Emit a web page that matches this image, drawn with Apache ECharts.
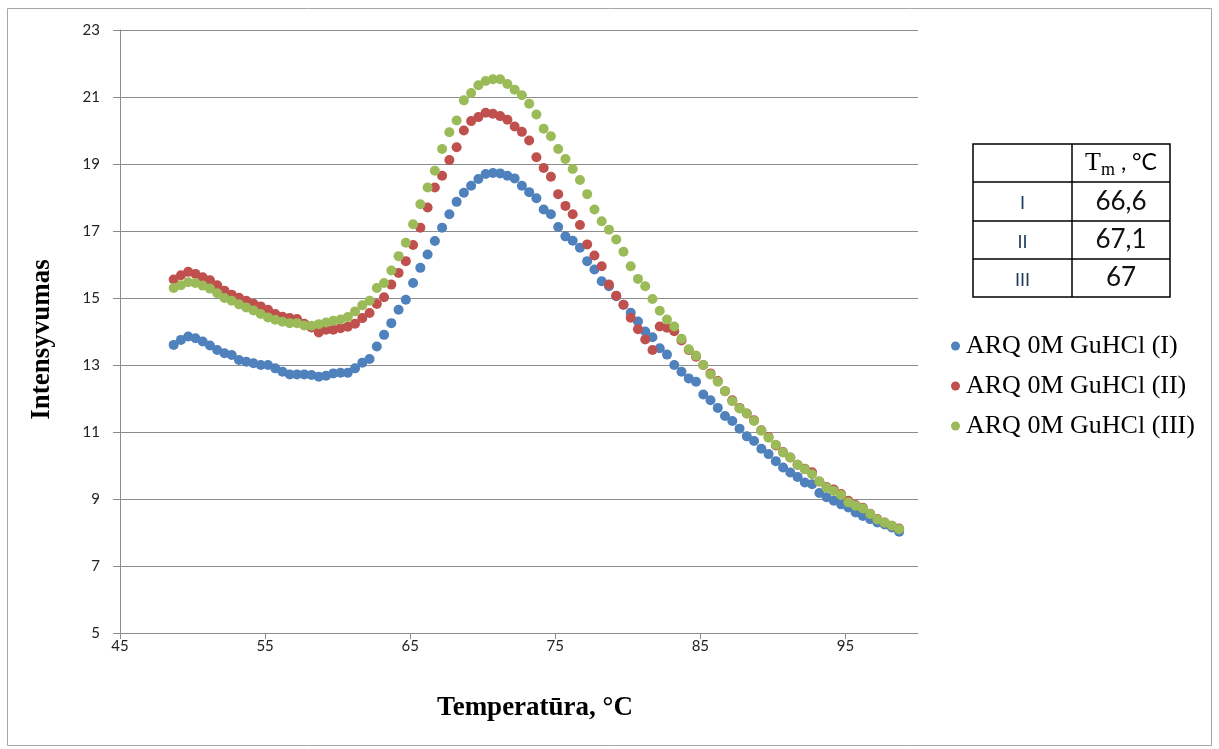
<!DOCTYPE html>
<html>
<head>
<meta charset="utf-8">
<script src="https://cdn.jsdelivr.net/npm/echarts@6/dist/echarts.min.js"></script>
<style>html,body{margin:0;padding:0;background:#fff;}#c{width:1219px;height:749px;}</style>
</head>
<body>
<div id="c"></div>
<script>
const temps = [
 48.7,49.2,49.7,50.2,50.7,51.2,51.7,52.2,52.7,53.2,
 53.7,54.2,54.7,55.2,55.7,56.2,56.7,57.2,57.7,58.2,
 58.7,59.2,59.7,60.2,60.7,61.2,61.7,62.2,62.7,63.2,
 63.7,64.2,64.7,65.2,65.7,66.2,66.7,67.2,67.7,68.2,
 68.7,69.2,69.7,70.2,70.7,71.2,71.7,72.2,72.7,73.2,
 73.7,74.2,74.7,75.2,75.7,76.2,76.7,77.2,77.7,78.2,
 78.7,79.2,79.7,80.2,80.7,81.2,81.7,82.2,82.7,83.2,
 83.7,84.2,84.7,85.2,85.7,86.2,86.7,87.2,87.7,88.2,
 88.7,89.2,89.7,90.2,90.7,91.2,91.7,92.2,92.7,93.2,
 93.7,94.2,94.7,95.2,95.7,96.2,96.7,97.2,97.7,98.2,
 98.7];
const seriesI = [
 13.6,13.75,13.85,13.8,13.7,13.58,13.45,13.35,13.3,13.15,
 13.1,13.05,13.0,13.0,12.9,12.8,12.72,12.72,12.72,12.7,
 12.65,12.68,12.75,12.77,12.77,12.9,13.07,13.18,13.55,13.9,
 14.25,14.65,14.95,15.45,15.9,16.3,16.7,17.1,17.5,17.87,
 18.14,18.35,18.55,18.7,18.73,18.72,18.65,18.57,18.35,18.16,
 17.98,17.64,17.5,17.12,16.84,16.71,16.5,16.1,15.85,15.5,
 15.35,15.05,14.8,14.56,14.3,14.0,13.83,13.5,13.31,13.0,
 12.8,12.6,12.5,12.12,11.95,11.72,11.48,11.33,11.1,10.87,
 10.73,10.5,10.34,10.13,9.94,9.79,9.66,9.49,9.44,9.18,
 9.05,8.95,8.84,8.75,8.6,8.49,8.4,8.3,8.24,8.15,
 8.02];
const seriesII = [
 15.55,15.68,15.78,15.72,15.62,15.53,15.38,15.22,15.1,15.01,
 14.92,14.83,14.75,14.65,14.52,14.44,14.4,14.37,14.23,14.12,
 13.97,14.05,14.05,14.1,14.14,14.23,14.4,14.55,14.82,15.02,
 15.4,15.75,16.1,16.58,17.1,17.7,18.3,18.65,19.12,19.5,
 20.0,20.28,20.4,20.53,20.5,20.43,20.32,20.12,19.96,19.7,
 19.2,18.88,18.62,18.1,17.75,17.5,17.18,16.6,16.27,15.95,
 15.4,15.07,14.8,14.41,14.07,13.76,13.45,14.15,14.11,14.01,
 13.73,13.45,13.25,13.0,12.75,12.52,12.22,11.95,11.72,11.55,
 11.35,11.05,10.85,10.6,10.4,10.24,10.02,9.9,9.8,9.52,
 9.36,9.28,9.15,8.95,8.82,8.74,8.56,8.4,8.3,8.2,
 8.12];
const seriesIII = [
 15.3,15.38,15.47,15.45,15.37,15.28,15.14,15.0,14.92,14.81,
 14.72,14.63,14.52,14.42,14.35,14.29,14.25,14.25,14.18,14.17,
 14.22,14.27,14.32,14.36,14.43,14.6,14.78,14.92,15.3,15.45,
 15.82,16.25,16.65,17.2,17.8,18.3,18.8,19.45,19.95,20.3,
 20.9,21.12,21.35,21.48,21.53,21.53,21.39,21.22,21.05,20.8,
 20.48,20.05,19.83,19.45,19.15,18.85,18.52,18.1,17.64,17.29,
 17.04,16.75,16.38,15.95,15.57,15.35,14.97,14.62,14.36,14.15,
 13.78,13.47,13.28,13.0,12.72,12.5,12.22,11.92,11.7,11.55,
 11.33,11.04,10.83,10.62,10.39,10.24,10.02,9.89,9.74,9.52,
 9.34,9.24,9.12,8.9,8.8,8.72,8.55,8.39,8.29,8.2,
 8.1];
const seriesNames = ['ARQ 0M GuHCl (I)', 'ARQ 0M GuHCl (II)', 'ARQ 0M GuHCl (III)'];
const tableRowLabels = ['I', 'II', 'III'];
const tableTmValues = ['66,6', '67,1', '67'];

const colors = ['#4F81BD', '#C0504D', '#9BBB59'];
const gridColor = '#8C8C8C';
const serif = '"Liberation Serif", "DejaVu Serif", serif';
const sans = 'Lato, "Open Sans", sans-serif';

function pairs(vals) { return temps.map((t, i) => [t, vals[i]]); }

const chart = echarts.init(document.getElementById('c'), null, {renderer: 'canvas'});

// table graphics
const tX = 973, tMid = 1072, tR = 1170;
const rowsY = [144, 182, 221, 259, 297];
const tableEls = [];
tableEls.push({type: 'rect', shape: {x: tX, y: rowsY[0], width: tR - tX, height: rowsY[4] - rowsY[0]},
  style: {fill: 'none', stroke: '#000', lineWidth: 1.5}});
for (let i = 1; i < 4; i++) {
  tableEls.push({type: 'line', shape: {x1: tX, y1: rowsY[i], x2: tR, y2: rowsY[i]}, style: {stroke: '#000', lineWidth: 1.5}});
}
tableEls.push({type: 'line', shape: {x1: tMid, y1: rowsY[0], x2: tMid, y2: rowsY[4]}, style: {stroke: '#000', lineWidth: 1.5}});
tableEls.push({type: 'text', x: (tMid + tR) / 2, y: (rowsY[0] + rowsY[1]) / 2,
  style: {text: '{t|T}{m|m}{c| , °C}', align: 'center', verticalAlign: 'middle',
    rich: {t: {fontFamily: serif, fontSize: 26, fill: '#000'},
           m: {fontFamily: serif, fontSize: 18, fill: '#000', padding: [14, 0, 0, 0]},
           c: {fontFamily: sans, fontSize: 23, fill: '#000'}}}});
tableRowLabels.forEach((lab, i) => {
  tableEls.push({type: 'text', x: (tX + tMid) / 2, y: (rowsY[i + 1] + rowsY[i + 2]) / 2 + 2,
    style: {text: lab, align: 'center', verticalAlign: 'middle', fontFamily: sans, fontSize: 18, fill: '#1F3A5F'}});
  tableEls.push({type: 'text', x: (tMid + tR) / 2, y: (rowsY[i + 1] + rowsY[i + 2]) / 2,
    style: {text: tableTmValues[i], align: 'center', verticalAlign: 'middle', fontFamily: sans, fontSize: 26, fill: '#111'}});
});

const option = {
  animation: false,
  backgroundColor: '#fff',
  grid: {left: 120, right: 301, top: 30, bottom: 116, containLabel: false},
  xAxis: {
    type: 'value', min: 45, max: 100, interval: 10,
    name: 'Temperatūra, °C', nameLocation: 'middle', nameGap: 62,
    nameTextStyle: {fontFamily: serif, fontWeight: 'bold', fontSize: 27, color: '#000', padding: [0, 0, 0, 32]},
    axisLine: {show: true, onZero: false, lineStyle: {color: gridColor, width: 1}},
    axisTick: {show: true, inside: false, length: 6, lineStyle: {color: gridColor}},
    axisLabel: {fontFamily: sans, fontSize: 15, color: '#222', margin: 6, showMaxLabel: false},
    splitLine: {show: false}
  },
  yAxis: {
    type: 'value', min: 5, max: 23, interval: 2,
    name: 'Intensyvumas', nameLocation: 'middle', nameGap: 64, nameRotate: 90,
    nameTextStyle: {fontFamily: serif, fontWeight: 'bold', fontSize: 27, color: '#000', padding: [0, 16, 0, 0]},
    axisLine: {show: true, lineStyle: {color: gridColor, width: 1}},
    axisTick: {show: true, inside: false, length: 7, lineStyle: {color: gridColor}},
    axisLabel: {fontFamily: sans, fontSize: 15, color: '#222', margin: 20},
    splitLine: {show: true, lineStyle: {color: gridColor, width: 1}}
  },
  legend: {
    orient: 'vertical', left: 946, top: 328, itemGap: 14,
    icon: 'circle', itemWidth: 9, itemHeight: 9,
    textStyle: {fontFamily: serif, fontSize: 26, color: '#000', padding: [0, 0, 0, 1]},
    data: seriesNames
  },
  series: [
    {name: seriesNames[0], type: 'scatter', data: pairs(seriesI), symbolSize: 10, itemStyle: {color: colors[0], opacity: 1}},
    {name: seriesNames[1], type: 'scatter', data: pairs(seriesII), symbolSize: 10, itemStyle: {color: colors[1], opacity: 1}},
    {name: seriesNames[2], type: 'scatter', data: pairs(seriesIII), symbolSize: 10, itemStyle: {color: colors[2], opacity: 1}}
  ],
  graphic: [
    {type: 'rect', shape: {x: 7.5, y: 8.5, width: 1204, height: 737}, style: {fill: 'none', stroke: '#A6A6A6', lineWidth: 1}, silent: true, z: -1},
    {type: 'group', children: tableEls}
  ]
};
chart.setOption(option);
</script>
</body>
</html>
